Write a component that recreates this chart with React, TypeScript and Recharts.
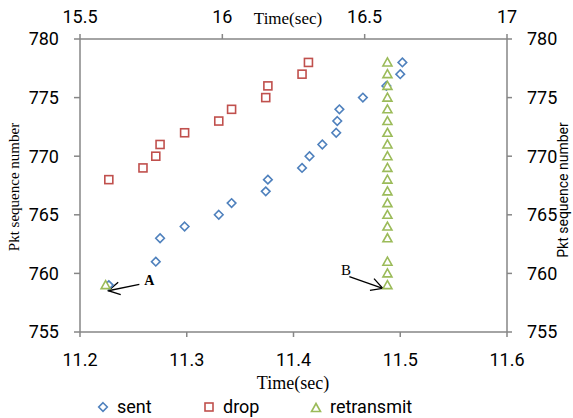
import { ScatterChart, Scatter, XAxis, YAxis, Legend, ReferenceLine, ReferenceDot } from 'recharts'

// packet trace: time (sec) vs sequence number
const sentTime = [11.227, 11.271, 11.275, 11.298, 11.33, 11.342, 11.374, 11.376, 11.408, 11.415, 11.427, 11.44, 11.441, 11.443, 11.465, 11.487, 11.5, 11.502]
const sentSeq = [759, 761, 763, 764, 765, 766, 767, 768, 769, 770, 771, 772, 773, 774, 775, 776, 777, 778]

const dropTime = [11.227, 11.259, 11.271, 11.275, 11.298, 11.33, 11.342, 11.374, 11.376, 11.408, 11.414]
const dropSeq = [768, 769, 770, 771, 772, 773, 774, 775, 776, 777, 778]

const retxTime = [11.224, 11.488, 11.488, 11.488, 11.488, 11.488, 11.488, 11.488, 11.488, 11.488, 11.488, 11.488, 11.488, 11.488, 11.488, 11.488, 11.488, 11.488, 11.488, 11.488]
const retxSeq = [759, 759, 760, 761, 763, 764, 765, 766, 767, 768, 769, 770, 771, 772, 773, 774, 775, 776, 777, 778]

const bottomTicks = [11.2, 11.3, 11.4, 11.5, 11.6]
const topTicks = [15.5, 16, 16.5, 17]
const seqTicks = [755, 760, 765, 770, 775, 780]

const sentData = sentTime.map((t, i) => ({ t, seq: sentSeq[i] }))
const dropData = dropTime.map((t, i) => ({ t, seq: dropSeq[i] }))
const retxData = retxTime.map((t, i) => ({ t, seq: retxSeq[i] }))
// secondary axes carry no series; an invisible scatter registers them
const secondaryData = [{ t: topTicks[0], seq: seqTicks[0] }]

const BLUE = '#4F81BD'
const RED = '#C0504D'
const GREEN = '#9BBB59'
const AXIS = '#868686'
const SANS = 'Roboto, sans-serif'
const SERIF = '"Liberation Serif", "DejaVu Serif", serif'

const tickStyle = { fontFamily: SANS, fontSize: 18, fill: '#000' }

function Diamond({ cx, cy }: any) {
  const r = 4.3
  return <polygon points={`${cx},${cy - r} ${cx + r},${cy} ${cx},${cy + r} ${cx - r},${cy}`} fill="#fff" stroke={BLUE} strokeWidth={1.6} />
}
function Square({ cx, cy }: any) {
  return <rect x={cx - 4} y={cy - 4} width={8} height={8} fill="#fff" stroke={RED} strokeWidth={1.6} />
}
function Triangle({ cx, cy }: any) {
  return <polygon points={`${cx},${cy - 4.5} ${cx + 4.5},${cy + 3.5} ${cx - 4.5},${cy + 3.5}`} fill="#fff" stroke={GREEN} strokeWidth={1.6} />
}
const Nothing = () => <g />

function Arrow({ x1, y1, x2, y2 }: any) {
  const a = Math.atan2(y2 - y1, x2 - x1)
  const len = 13, spread = 0.5
  const h1x = x2 - len * Math.cos(a - spread), h1y = y2 - len * Math.sin(a - spread)
  const h2x = x2 - len * Math.cos(a + spread), h2y = y2 - len * Math.sin(a + spread)
  return (
    <g stroke="#000" strokeWidth={1.3} fill="none">
      <line x1={x1} y1={y1} x2={x2} y2={y2} />
      <polyline points={`${h1x},${h1y} ${x2},${y2} ${h2x},${h2y}`} />
    </g>
  )
}

function LegendContent() {
  const items = [
    { left: 96, label: 'sent', icon: <Diamond cx={7} cy={7} /> },
    { left: 202, label: 'drop', icon: <Square cx={7} cy={7} /> },
    { left: 309, label: 'retransmit', icon: <Triangle cx={7} cy={8} /> },
  ]
  return (
    <div style={{ position: 'relative', height: 30 }}>
      {items.map(it => (
        <div key={it.label} style={{ position: 'absolute', left: it.left, top: 9, display: 'flex', alignItems: 'center' }}>
          <svg width={14} height={14}>{it.icon}</svg>
          <span style={{ fontFamily: SANS, fontSize: 18, marginLeft: 7, lineHeight: '20px' }}>{it.label}</span>
        </div>
      ))}
    </div>
  )
}

export default function App() {
  return (
    <div style={{ position: 'absolute', left: 0, top: 0, width: 573, height: 418, background: '#fff' }}>
      <ScatterChart width={573} height={418} margin={{ top: 0, right: 0, bottom: 0, left: 0 }}>
        <XAxis xAxisId="b" dataKey="t" type="number" domain={[11.2, 11.6]} ticks={bottomTicks} height={56}
               stroke={AXIS} strokeWidth={1.5} tickSize={5} tickMargin={16} tick={tickStyle}
               label={{ content: () => <text x={293} y={389} textAnchor="middle" fontFamily={SERIF} fontSize={18}>Time(sec)</text> }} />
        <XAxis xAxisId="t" dataKey="t" orientation="top" type="number" domain={[15.5, 17]} ticks={topTicks} height={39}
               stroke={AXIS} strokeWidth={1.5} tickSize={5} tickMargin={11} tick={tickStyle}
               label={{ content: () => <text x={288} y={24} textAnchor="middle" fontFamily={SERIF} fontSize={17}>Time(sec)</text> }} />
        <YAxis yAxisId="l" dataKey="seq" type="number" domain={[755, 780]} ticks={seqTicks} width={80}
               stroke={AXIS} strokeWidth={1.5} tickSize={6} tickMargin={15} tick={tickStyle}
               label={{ content: () => <text x={19} y={187} transform="rotate(-90 19 187)" textAnchor="middle" fontFamily={SERIF} fontSize={15}>Pkt  sequence number</text> }} />
        <YAxis yAxisId="r" dataKey="seq" orientation="right" type="number" domain={[755, 780]} ticks={seqTicks} width={66}
               stroke={AXIS} strokeWidth={1.5} tickSize={5} tickMargin={15} tick={{ ...tickStyle, textAnchor: 'start' }}
               label={{ content: () => <text x={568} y={190} transform="rotate(-90 568 190)" textAnchor="middle" fontFamily={SANS} fontSize={14}>Pkt sequence number</text> }} />
        <Legend verticalAlign="bottom" height={30} content={<LegendContent />} />
        <Scatter name="secondary" data={secondaryData} xAxisId="t" yAxisId="r" shape={<Nothing />} legendType="none" isAnimationActive={false} />
        <Scatter name="sent" data={sentData} xAxisId="b" yAxisId="l" shape={<Diamond />} isAnimationActive={false} />
        <Scatter name="drop" data={dropData} xAxisId="b" yAxisId="l" shape={<Square />} isAnimationActive={false} />
        <Scatter name="retransmit" data={retxData} xAxisId="b" yAxisId="l" shape={<Triangle />} isAnimationActive={false} />
        <ReferenceLine xAxisId="b" yAxisId="l" segment={[{ x: 11.2556, y: 759.07 }, { x: 11.2265, y: 758.52 }]} shape={Arrow} />
        <ReferenceLine xAxisId="b" yAxisId="l" segment={[{ x: 11.4523, y: 759.72 }, { x: 11.4836, y: 758.73 }]} shape={Arrow} />
        <ReferenceDot xAxisId="b" yAxisId="l" x={11.265} y={759.4} r={0}
                      shape={(p: any) => <text x={p.cx} y={p.cy + 5} textAnchor="middle" fontFamily={SERIF} fontSize={14} fontWeight="bold">A</text>} />
        <ReferenceDot xAxisId="b" yAxisId="l" x={11.4492} y={760.3} r={0}
                      shape={(p: any) => <text x={p.cx} y={p.cy + 5} textAnchor="middle" fontFamily={SERIF} fontSize={15}>B</text>} />
      </ScatterChart>
    </div>
  )
}
